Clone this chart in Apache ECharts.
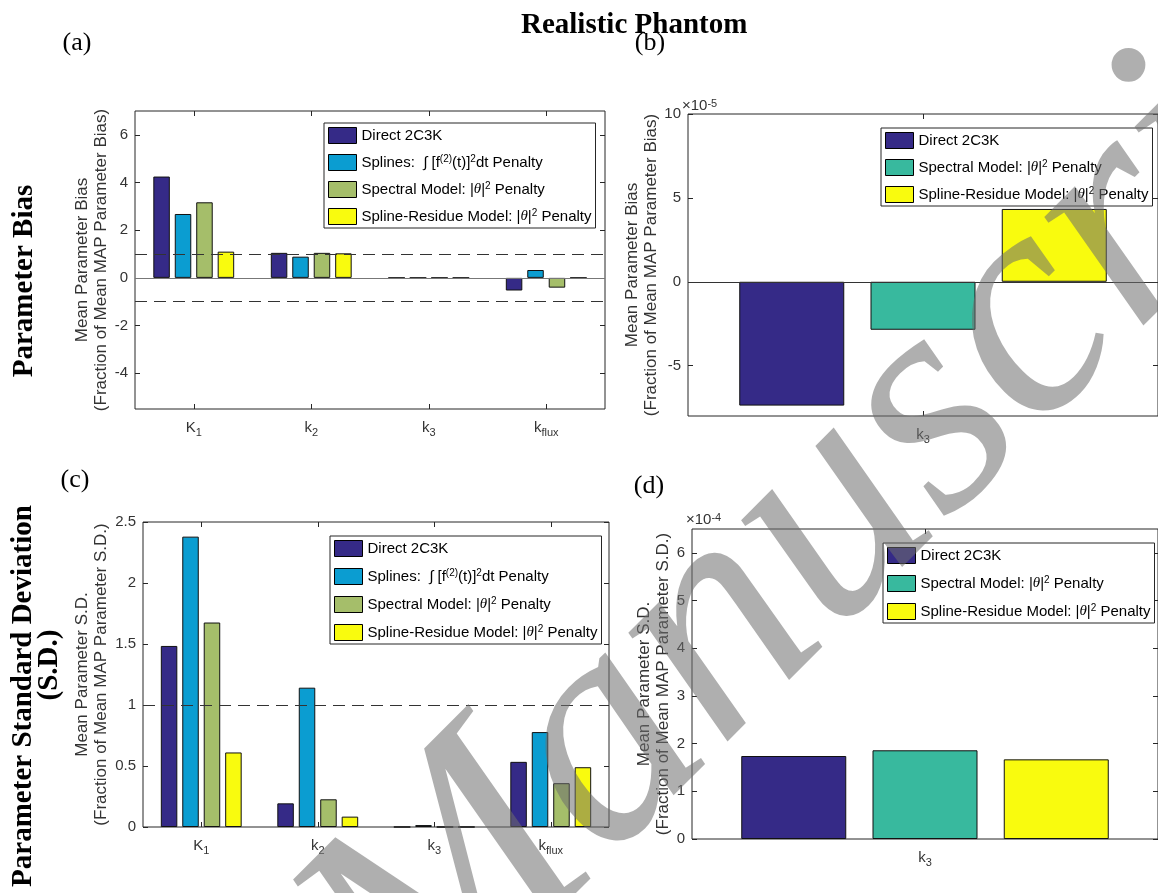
<!DOCTYPE html>
<html>
<head>
<meta charset="utf-8">
<title>Realistic Phantom</title>
<script src="https://cdn.jsdelivr.net/npm/echarts@6/dist/echarts.min.js"></script>
<style>
  html, body { margin: 0; padding: 0; background: #fff; }
  #chart { width: 1158px; height: 893px; }
</style>
</head>
<body>
<div id="chart"></div>
<script>
// kinetic parameters
var params = ['K1', 'k2', 'k3', 'kflux'];
var paramsK3 = ['k3'];

// (a) mean parameter bias, fraction of mean MAP parameter bias
var biasDirect   = [4.25, 1.05, -7.38e-5, -0.53];
var biasSplines  = [2.68, 0.89, 0, 0.33];
var biasSpectral = [3.17, 1.05, -2.86e-5, -0.41];
var biasResidue  = [1.10, 1.03, 4.34e-5, 0];

// (b) k3 bias only: direct, spectral, spline-residue
var biasK3 = [-7.38e-5, -2.86e-5, 4.34e-5];

// (c) mean parameter S.D., fraction of mean MAP parameter S.D.
var sdDirect   = [1.484, 0.194, 1.74e-4, 0.534];
var sdSplines  = [2.38, 1.142, 0.016, 0.778];
var sdSpectral = [1.676, 0.227, 1.86e-4, 0.359];
var sdResidue  = [0.611, 0.085, 1.67e-4, 0.49];

// (d) k3 S.D. only
var sdK3 = [1.74e-4, 1.86e-4, 1.67e-4];

// tick labels
var ticksA = [-4, -2, 0, 2, 4, 6];
var ticksB = [-5e-5, 0, 5e-5, 10e-5];
var ticksC = [0, 0.5, 1, 1.5, 2, 2.5];
var ticksD = [0, 1e-4, 2e-4, 3e-4, 4e-4, 5e-4, 6e-4];

var SANS = "'Liberation Sans', Arial, Helvetica, sans-serif";
var SERIF = "'Liberation Serif', 'Times New Roman', serif";
var AX = '#262626';
var TXT = '#333';

var cDirect = '#352a87', cSplines = '#0b9dd1', cSpectral = '#a5be6a',
    cResidue = '#f9fb0e', cTeal = '#38b99e';

var catLabel = {
  K1: '{m|K}{s|1}', k2: '{m|k}{s|2}', k3: '{m|k}{s|3}', kflux: '{m|k}{s|flux}'
};
var catRich = {
  m: { fontSize: 15, lineHeight: 20, color: TXT, fontFamily: SANS },
  s: { fontSize: 11, lineHeight: 6, verticalAlign: 'bottom', color: TXT, fontFamily: SANS }
};

var legendText = {
  'Direct 2C3K': 'Direct 2C3K',
  'Splines': 'Splines:  \u222B [f{sup|(2)}(t)]{sup|2}dt Penalty',
  'Spectral Model': 'Spectral Model: |{th|\u03B8}|{sup|2} Penalty',
  'Spline-Residue Model': 'Spline-Residue Model: |{th|\u03B8}|{sup|2} Penalty'
};

function xAxes(gi, cats) {
  var tick = { show: true, inside: true, alignWithLabel: true, length: 5, lineStyle: { color: AX } };
  return [{
    type: 'category', gridIndex: gi, data: cats, position: 'bottom',
    axisLine: { show: false, onZero: false }, axisTick: tick,
    axisLabel: { margin: 9, formatter: function (v) { return catLabel[v]; }, rich: catRich }
  }, {
    type: 'category', gridIndex: gi, data: cats, position: 'top',
    axisLine: { show: false, onZero: false }, axisTick: tick, axisLabel: { show: false }
  }];
}

function yAxes(gi, min, max, ticks, fmt, name, gap) {
  var tick = { show: true, inside: true, length: 5, customValues: ticks, lineStyle: { color: AX } };
  return [{
    type: 'value', gridIndex: gi, min: min, max: max, position: 'left',
    axisLine: { show: false }, splitLine: { show: false }, axisTick: tick,
    axisLabel: { customValues: ticks, margin: 7, fontSize: 15, color: TXT, fontFamily: SANS, formatter: fmt },
    name: name, nameLocation: 'middle', nameRotate: 90, nameGap: gap,
    nameTextStyle: { fontSize: 17, lineHeight: 19, color: TXT, fontFamily: SANS }
  }, {
    type: 'value', gridIndex: gi, min: min, max: max, position: 'right',
    axisLine: { show: false }, splitLine: { show: false }, axisTick: tick,
    axisLabel: { show: false }
  }];
}

function bar(name, data, color, panel, width, gap, lines) {
  var s = {
    name: name, type: 'bar', data: data,
    xAxisIndex: panel * 2, yAxisIndex: panel * 2,
    barWidth: width, barGap: gap,
    itemStyle: { color: color, borderColor: '#111', borderWidth: 1 }
  };
  if (lines) {
    s.markLine = {
      silent: true, symbol: ['none', 'none'], label: { show: false },
      lineStyle: { type: [12, 7], color: '#333', width: 1 },
      data: lines
    };
  }
  return s;
}

function legend(left, top, gap, names, colors) {
  return {
    orient: 'vertical', left: left, top: top, itemGap: gap,
    itemWidth: 28, itemHeight: 16, icon: 'rect', selectedMode: false,
    padding: [4, 4, 3, 4], backgroundColor: '#fff',
    borderColor: AX, borderWidth: 1, borderRadius: 0,
    data: names.map(function (n, i) {
      return { name: n, itemStyle: { color: colors[i], borderColor: '#000', borderWidth: 1 } };
    }),
    formatter: function (n) { return legendText[n]; },
    textStyle: {
      fontSize: 15, lineHeight: 16, color: '#000', fontFamily: SANS,
      rich: {
        sup: { fontSize: 10, lineHeight: 6, verticalAlign: 'top', color: '#000', fontFamily: SANS },
        th: { fontSize: 15, fontStyle: 'italic', color: '#000', fontFamily: SERIF }
      }
    }
  };
}

var names4 = ['Direct 2C3K', 'Splines', 'Spectral Model', 'Spline-Residue Model'];
var names3 = ['Direct 2C3K', 'Spectral Model', 'Spline-Residue Model'];

function plain(v) { return String(v); }
function exp5(v) { return String(Math.round(v * 1e5)); }
function exp4(v) { return String(Math.round(v * 1e4)); }

function label(text, x, y, size, bold, rot) {
  return {
    type: 'text', x: x, y: y, rotation: rot || 0, silent: true,
    style: {
      text: text, fontSize: size, fontFamily: SERIF, fontWeight: bold ? 'bold' : 'normal',
      fill: '#000', align: 'center', verticalAlign: 'middle'
    }
  };
}

function exponent(text, x, y) {
  return {
    type: 'text', x: x, y: y, silent: true,
    style: {
      text: text, fontSize: 15, fontFamily: SANS, fill: TXT, align: 'left', verticalAlign: 'middle',
      rich: { sup: { fontSize: 11, lineHeight: 4, verticalAlign: 'top', fill: TXT, fontFamily: SANS } }
    }
  };
}

var chart = echarts.init(document.getElementById('chart'), null, { renderer: 'canvas' });

var gridStyle = { show: true, borderColor: AX, borderWidth: 1, backgroundColor: 'rgba(0,0,0,0)' };

chart.setOption({
  animation: false,
  backgroundColor: '#fff',
  title: {
    text: 'Realistic Phantom', left: 521, top: 11, padding: 0,
    textStyle: { fontFamily: SERIF, fontWeight: 'bold', fontSize: 29, color: '#000' }
  },
  grid: [
    Object.assign({ left: 135, top: 111, width: 470, height: 298 }, gridStyle),
    Object.assign({ left: 688, top: 114, width: 470, height: 302 }, gridStyle),
    Object.assign({ left: 143, top: 522, width: 466, height: 305 }, gridStyle),
    Object.assign({ left: 692, top: 529, width: 470, height: 310 }, gridStyle)
  ],
  xAxis: [].concat(xAxes(0, params), xAxes(1, paramsK3), xAxes(2, params), xAxes(3, paramsK3)),
  yAxis: [].concat(
    yAxes(0, -5.5, 7, ticksA, plain, 'Mean Parameter Bias\n(Fraction of Mean MAP Parameter Bias)', 22),
    yAxes(1, -8e-5, 10e-5, ticksB, exp5, 'Mean Parameter Bias\n(Fraction of Mean MAP Parameter Bias)', 23),
    yAxes(2, 0, 2.5, ticksC, plain, 'Mean Parameter S.D.\n(Fraction of Mean MAP Parameter S.D.)', 30),
    yAxes(3, 0, 6.5e-4, ticksD, exp4, 'Mean Parameter S.D.\n(Fraction of Mean MAP Parameter S.D.)', 14)
  ),
  legend: [
    legend(324, 123, 10, names4, [cDirect, cSplines, cSpectral, cResidue]),
    legend(881, 128, 10, names3, [cDirect, cTeal, cResidue]),
    legend(330, 536, 11, names4, [cDirect, cSplines, cSpectral, cResidue]),
    legend(883, 543, 11, names3, [cDirect, cTeal, cResidue])
  ],
  series: [
    bar('Direct 2C3K', biasDirect, cDirect, 0, 16.5, '30%', [
      { yAxis: 0, lineStyle: { type: 'solid', color: '#777' } }, { yAxis: 1 }, { yAxis: -1 }
    ]),
    bar('Splines', biasSplines, cSplines, 0, 16.5, '30%'),
    bar('Spectral Model', biasSpectral, cSpectral, 0, 16.5, '30%'),
    bar('Spline-Residue Model', biasResidue, cResidue, 0, 16.5, '30%'),

    bar('Direct 2C3K', [biasK3[0]], cDirect, 1, 105, '25%', [
      { yAxis: 0, lineStyle: { type: 'solid', color: '#333' } }
    ]),
    bar('Spectral Model', [biasK3[1]], cTeal, 1, 105, '25%'),
    bar('Spline-Residue Model', [biasK3[2]], cResidue, 1, 105, '25%'),

    bar('Direct 2C3K', sdDirect, cDirect, 2, 16.5, '30%', [{ yAxis: 1 }]),
    bar('Splines', sdSplines, cSplines, 2, 16.5, '30%'),
    bar('Spectral Model', sdSpectral, cSpectral, 2, 16.5, '30%'),
    bar('Spline-Residue Model', sdResidue, cResidue, 2, 16.5, '30%'),

    bar('Direct 2C3K', [sdK3[0]], cDirect, 3, 105, '25%'),
    bar('Spectral Model', [sdK3[1]], cTeal, 3, 105, '25%'),
    bar('Spline-Residue Model', [sdK3[2]], cResidue, 3, 105, '25%')
  ],
  graphic: [
    label('(a)', 77, 43, 26, false),
    label('(b)', 650, 43, 26, false),
    label('(c)', 75, 480, 26, false),
    label('(d)', 649, 486, 26, false),
    label('Parameter Bias', 25, 281, 29, true, Math.PI / 2),
    label('Parameter Standard Deviation', 24, 696, 29, true, Math.PI / 2),
    label('(S.D.)', 50, 665, 29, true, Math.PI / 2),
    exponent('\u00D710{sup|-5}', 682, 106),
    exponent('\u00D710{sup|-4}', 686, 520),
    {
      // "Manuscript" watermark laid over the figure
      type: 'text', x: 880, y: 470, rotation: 45 * Math.PI / 180, z: 100, silent: true,
      style: {
        text: 'Manuscript', fontSize: 320, fontFamily: SERIF, fontStyle: 'italic',
        fill: 'rgba(110,110,110,0.55)', align: 'center', verticalAlign: 'middle'
      }
    }
  ]
});
</script>
</body>
</html>
